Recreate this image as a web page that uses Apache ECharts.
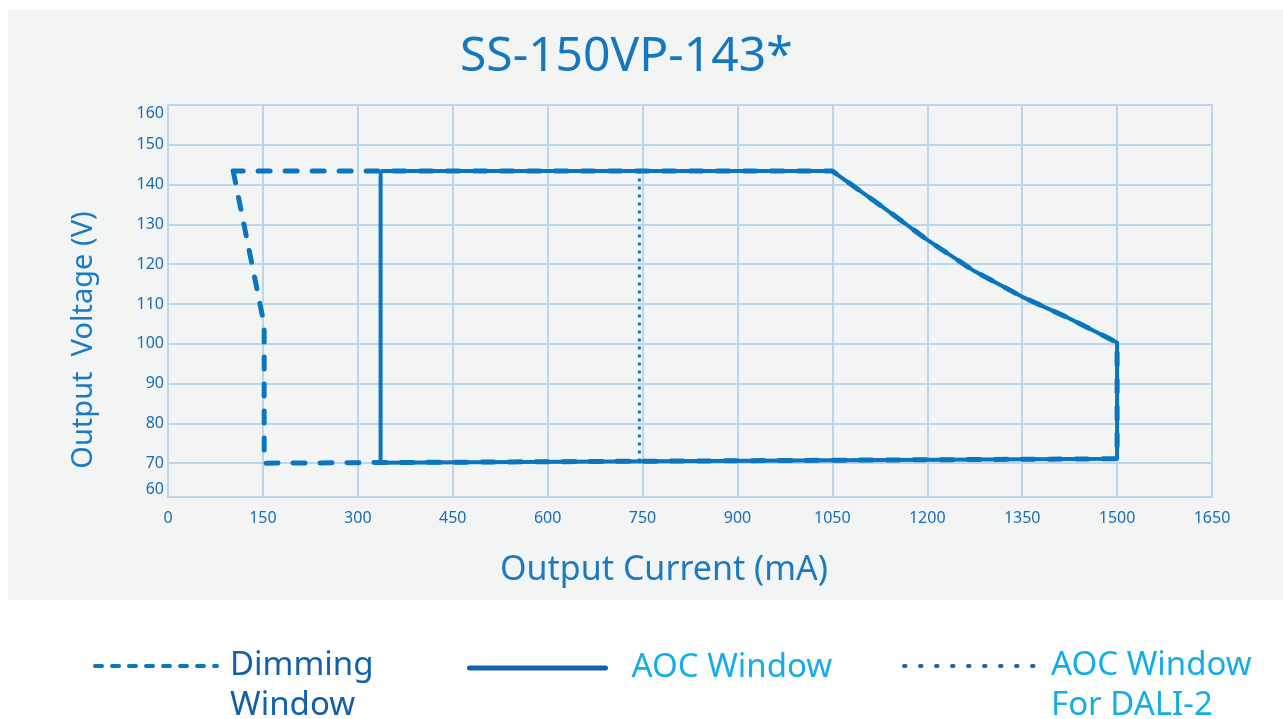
<!DOCTYPE html>
<html>
<head>
<meta charset="utf-8">
<title>SS-150VP-143*</title>
<script src="https://cdn.jsdelivr.net/npm/echarts@6/dist/echarts.min.js"></script>
<style>
  html, body { margin: 0; padding: 0; background: #fff; }
  #chart { width: 1283px; height: 719px; }
</style>
</head>
<body>
<div id="chart"></div>
<script>
// Output current (mA) / voltage (V)
var curveI = [1050, 1125, 1200, 1272, 1350, 1423, 1500];
var curveV = [143.4, 134.9, 126.1, 118.5, 111.8, 106.5, 100.3];

var dimmingI = [103, 152, 152, 1500].concat(curveI.slice().reverse(), [103]);
var dimmingV = [143.4, 104.8, 70.0, 71.1].concat(curveV.slice().reverse(), [143.4]);

var aocI = [336].concat(curveI, [1500, 336, 336]);
var aocV = [143.4].concat(curveV, [71.1, 70.1, 143.4]);

var daliI = [745].concat(curveI, [1500, 745, 745]);
var daliV = [143.4].concat(curveV, [71.1, 70.5, 143.4]);

var xTicks = { min: 0, max: 1650, interval: 150 };
var yTicks = { min: 61.5, max: 160, minLabel: '60' };

var seriesNames = ['Dimming Window', 'AOC Window', 'AOC Window For DALI-2'];
// leading blank line keeps the first text line level with the legend icon
var legendTexts = [' \nDimming\nWindow', 'AOC Window', ' \nAOC Window\nFor DALI-2'];

var lineBlue = '#0a76c0';
var gridBlue = '#bcd5ea';
var labelBlue = '#1d6cb3';
var font = 'Noto Sans';

function zip(xs, ys) {
  return xs.map(function (x, i) { return [x, ys[i]]; });
}

var myChart = echarts.init(document.getElementById('chart'));

function legendFor(i, left, iconW, gap, color, textColor, lineStyle, twoLines) {
  return {
    left: left,
    top: twoLines ? 606 : 648,
    padding: 0,
    itemWidth: iconW,
    itemHeight: 14,
    selectedMode: false,
    data: [seriesNames[i]],
    formatter: function () { return legendTexts[i]; },
    lineStyle: lineStyle,
    itemStyle: { color: color, opacity: 0 },
    textStyle: {
      color: textColor,
      fontFamily: font,
      fontSize: 33,
      lineHeight: 40,
      padding: [0, 0, 0, gap]
    }
  };
}

var option = {
  animation: false,
  backgroundColor: '#ffffff',
  graphic: [{
    type: 'rect',
    z: -10,
    silent: true,
    shape: { x: 8, y: 10, width: 1275, height: 590 },
    style: { fill: '#f3f5f5' }
  }],
  title: {
    text: 'SS-150VP-143*',
    left: 455,
    top: 28,
    textStyle: { color: '#1577c0', fontFamily: font, fontSize: 48, fontWeight: 'normal' }
  },
  legend: [
    legendFor(0, 93, 122, 8, lineBlue, '#1160ab',
      { color: lineBlue, width: 4, type: [7, 10], cap: 'round' }, true),
    legendFor(1, 467, 136, 21, '#1560aa', '#15ade6',
      { color: '#1560aa', width: 5, type: 'solid', cap: 'round' }, false),
    legendFor(2, 902, 130, 12, '#1a66ae', '#15ade6',
      { color: '#1a66ae', width: 4, type: [1.5, 14.5], cap: 'round' }, true)
  ],
  grid: {
    left: 168,
    right: 71,
    top: 105,
    bottom: 222,
    show: true,
    borderColor: gridBlue,
    borderWidth: 2,
    backgroundColor: 'transparent'
  },
  xAxis: {
    type: 'value',
    min: xTicks.min,
    max: xTicks.max,
    interval: xTicks.interval,
    name: 'Output Current (mA)',
    nameLocation: 'middle',
    nameGap: 56,
    nameTextStyle: { color: '#1a7bc2', fontFamily: font, fontSize: 34, padding: [0, 52, 0, 0] },
    axisLine: { show: false },
    axisTick: { show: false },
    axisLabel: {
      color: labelBlue, fontFamily: font, fontSize: 16, margin: 13,
      formatter: function (v) { return String(v); }
    },
    splitLine: { lineStyle: { color: gridBlue, width: 2 } }
  },
  yAxis: {
    type: 'value',
    min: yTicks.min,
    max: yTicks.max,
    splitNumber: 10,
    minInterval: 10,
    maxInterval: 10,
    name: 'Output  Voltage (V)',
    nameLocation: 'middle',
    nameGap: 70,
    nameTextStyle: { color: '#1a7bc2', fontFamily: font, fontSize: 29, padding: [0, 78, 0, 0] },
    axisLine: { show: false },
    axisTick: { show: false },
    axisLabel: {
      color: labelBlue,
      fontFamily: font,
      fontSize: 16,
      margin: 4,
      showMinLabel: true,
      showMaxLabel: true,
      verticalAlignMinLabel: 'bottom',
      verticalAlignMaxLabel: 'top',
      formatter: function (v) {
        return v === yTicks.min ? yTicks.minLabel : String(v);
      }
    },
    splitLine: { lineStyle: { color: gridBlue, width: 2 } }
  },
  series: [
    {
      name: seriesNames[0],
      type: 'line',
      symbol: 'none',
      data: zip(dimmingI, dimmingV),
      lineStyle: { color: lineBlue, width: 5, type: [12, 15], cap: 'round', join: 'round' },
      itemStyle: { color: lineBlue }
    },
    {
      name: seriesNames[1],
      type: 'line',
      symbol: 'none',
      data: zip(aocI, aocV),
      lineStyle: { color: lineBlue, width: 4, join: 'round' },
      itemStyle: { color: lineBlue }
    },
    {
      name: seriesNames[2],
      type: 'line',
      symbol: 'none',
      data: zip(daliI, daliV),
      lineStyle: { color: lineBlue, width: 3, type: [3, 5], join: 'round' },
      itemStyle: { color: lineBlue }
    }
  ]
};

myChart.setOption(option);
</script>
</body>
</html>
